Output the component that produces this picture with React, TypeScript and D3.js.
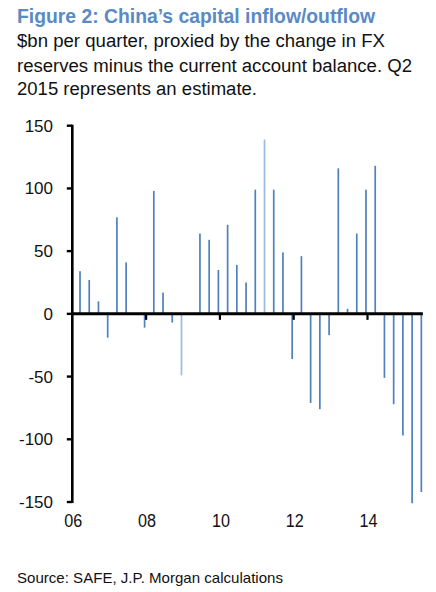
import React from "react";
import * as d3 from "d3";

const quarters = [
  "2006Q1","2006Q2","2006Q3","2006Q4",
  "2007Q1","2007Q2","2007Q3","2007Q4",
  "2008Q1","2008Q2","2008Q3","2008Q4",
  "2009Q1","2009Q2","2009Q3","2009Q4",
  "2010Q1","2010Q2","2010Q3","2010Q4",
  "2011Q1","2011Q2","2011Q3","2011Q4",
  "2012Q1","2012Q2","2012Q3","2012Q4",
  "2013Q1","2013Q2","2013Q3","2013Q4",
  "2014Q1","2014Q2","2014Q3","2014Q4",
  "2015Q1","2015Q2",
];
const flows = [
  34, 27, 10, -19,
  77, 41, 0, -11,
  98, 17, -7, -49,
  0, 64, 59, 35,
  71, 39, 25, 99,
  139, 99, 49, -36,
  46, -71, -76, -17,
  116, 4, 64, 99,
  118, -51, -72, -97,
  -151, -142,
];
const lightBars = ["2008Q4", "2011Q1"];
const yTicks = [150, 100, 50, 0, -50, -100, -150];
const xTickYears = [2006, 2008, 2010, 2012, 2014];
const xTickLabels = ["06", "08", "10", "12", "14"];

const title = "Figure 2: China\u2019s capital inflow/outflow";
const subtitle = [
  "$bn per quarter, proxied by the change in FX",
  "reserves minus the current account balance. Q2",
  "2015 represents an estimate.",
];
const source = "Source: SAFE, J.P. Morgan calculations";

const W = 436;
const H = 592;
const FONT = "'Liberation Sans', Arial, sans-serif";

export default function App() {
  const x = d3.scaleLinear().domain([2006, 2015.5]).range([72.3, 72.3 + 36.9 * 9.5]);
  const y = d3.scaleLinear().domain([-150, 150]).range([502, 125.7]);
  const qPos = (q: string) => {
    const yr = +q.slice(0, 4);
    const qi = +q.slice(5) - 1;
    return yr + qi * 0.25 + 0.209;
  };
  const barW = 1.7;
  const axisX = x(2006);

  return (
    <svg width={W} height={H} style={{ position: "absolute", left: 0, top: 0, background: "#fff" }}>
      <rect width={W} height={H} fill="#fff" />
      <text x={17} y={23} fontFamily={FONT} fontWeight="bold" fontSize={21} fill="#5a8ac5"
        textLength={358} lengthAdjust="spacingAndGlyphs">{title}</text>
      {subtitle.map((s, i) => (
        <text key={i} x={17} y={[47, 71.5, 94.5][i]} fontFamily={FONT} fontSize={18} fill="#111"
          textLength={[368, 395, 240][i]} lengthAdjust="spacingAndGlyphs">{s}</text>
      ))}

      {quarters.map((q, i) => {
        const v = flows[i];
        if (v === 0) return null;
        const cx = x(qPos(q));
        return (
          <rect key={q} x={cx - barW / 2} width={barW}
            y={Math.min(y(v), y(0))} height={Math.abs(y(v) - y(0))}
            fill={lightBars.includes(q) ? "#9cbbe0" : "#4f81bd"} />
        );
      })}

      {/* y axis */}
      <line x1={axisX} x2={axisX} y1={y(150) - 1} y2={y(-150) + 1} stroke="#000" strokeWidth={2.6} />
      {yTicks.map((t) => (
        <g key={t}>
          <line x1={axisX - 5.5} x2={axisX} y1={y(t)} y2={y(t)} stroke="#000" strokeWidth={2.4} />
          <text x={53} y={y(t) + 6} textAnchor="end" fontFamily={FONT} fontSize={17} fill="#111">{t}</text>
        </g>
      ))}

      {/* zero line */}
      <line x1={axisX} x2={x(2015.5)} y1={y(0)} y2={y(0)} stroke="#000" strokeWidth={3} />
      {xTickYears.map((yr, i) => (
        <g key={yr}>
          {i > 0 && <line x1={x(yr)} x2={x(yr)} y1={y(0)} y2={y(0) + 6} stroke="#000" strokeWidth={2.2} />}
          <text x={x(yr) + 1} y={527} textAnchor="middle" fontFamily={FONT} fontSize={18} fill="#111"
            textLength={18} lengthAdjust="spacingAndGlyphs">{xTickLabels[i]}</text>
        </g>
      ))}

      <text x={17} y={583} fontFamily={FONT} fontSize={15} fill="#111"
        textLength={266} lengthAdjust="spacingAndGlyphs">{source}</text>
    </svg>
  );
}
